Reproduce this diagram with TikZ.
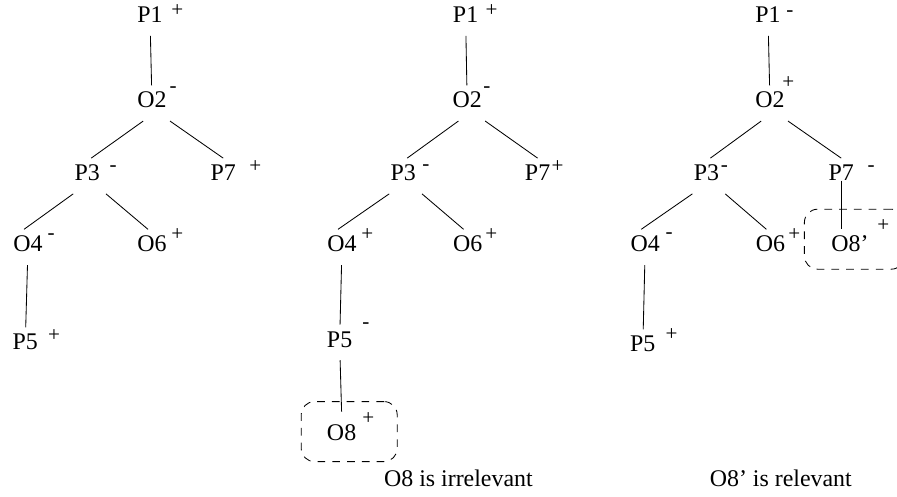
\documentclass[tikz,border=0pt]{standalone}
\usepackage{fontspec}
\setmainfont{Liberation Serif}

\begin{document}
\begin{tikzpicture}[
    every node/.style={font=\fontsize{17}{20}\selectfont},
    vtx/.style={inner xsep=0pt, inner ysep=0.32cm, text height=0.66em, text depth=0pt},
    sgn/.style={font=\fontsize{15}{17}\selectfont, inner sep=0pt, text height=0.5em, text depth=0pt},
    note/.style={inner sep=0pt, text height=0.66em, text depth=0pt},
    hbox/.style={draw, dash pattern=on 5.5pt off 5pt, rounded corners=0.33cm,
                 minimum width=2.4cm, minimum height=1.5cm, inner sep=0pt},
    line width=0.6pt,
]
    \useasboundingbox (0,0) rectangle (22.425,-12.425);

    % left tree
    \node[vtx] (p1-a) at (3.75,-0.45) {P1};
    \node[vtx] (o2-a) at (3.8,-2.58) {O2};
    \node[vtx] (p3-a) at (2.18,-4.4) {P3};
    \node[vtx] (p7-a) at (5.58,-4.4) {P7};
    \node[vtx] (o4-a) at (0.7,-6.18) {O4};
    \node[vtx] (o6-a) at (3.8,-6.18) {O6};
    \node[vtx] (p5-a) at (0.63,-8.63) {P5};

    \node[sgn] (sp1-a) at (4.43,-0.33) {+};
    \node[sgn] (so2-a) at (4.33,-2.23) {-};
    \node[sgn] (sp3-a) at (2.83,-4.2) {-};
    \node[sgn] (sp7-a) at (6.38,-4.23) {+};
    \node[sgn] (so4-a) at (1.28,-5.9) {-};
    \node[sgn] (so6-a) at (4.43,-5.93) {+};
    \node[sgn] (sp5-a) at (1.35,-8.45) {+};

    \draw (p1-a) -- (o2-a);
    \draw ([xshift=-2.2mm]o2-a.south) -- ([xshift=1mm]p3-a.north);
    \draw ([xshift=4.5mm]o2-a.south) -- (p7-a.north);
    \draw ([xshift=-3.5mm]p3-a.south) -- ([xshift=-1mm]o4-a.north);
    \draw ([xshift=4.7mm]p3-a.south) -- ([xshift=-1mm]o6-a.north);
    \draw (o4-a) -- (p5-a);

    % middle tree
    \node[vtx] (p1-b) at (11.64,-0.45) {P1};
    \node[vtx] (o2-b) at (11.68,-2.58) {O2};
    \node[vtx] (p3-b) at (10.08,-4.4) {P3};
    \node[vtx] (p7-b) at (13.44,-4.4) {P7};
    \node[vtx] (o4-b) at (8.55,-6.18) {O4};
    \node[vtx] (o6-b) at (11.69,-6.18) {O6};
    \node[vtx] (p5-b) at (8.49,-8.56) {P5};
    \node[vtx] (o8-b) at (8.54,-10.89) {O8};
    \node[hbox] (box-b) at (8.73,-10.79) {};

    \node[sgn] (sp1-b) at (12.29,-0.32) {+};
    \node[sgn] (so2-b) at (12.17,-2.23) {-};
    \node[sgn] (sp3-b) at (10.65,-4.17) {-};
    \node[sgn] (sp7-b) at (13.94,-4.23) {+};
    \node[sgn] (so4-b) at (9.18,-5.92) {+};
    \node[sgn] (so6-b) at (12.28,-5.93) {+};
    \node[sgn] (sp5-b) at (9.15,-8.13) {-};
    \node[sgn] (so8-b) at (9.21,-10.52) {+};

    \draw (p1-b) -- (o2-b);
    \draw ([xshift=-2.2mm]o2-b.south) -- ([xshift=1mm]p3-b.north);
    \draw ([xshift=4.5mm]o2-b.south) -- (p7-b.north);
    \draw ([xshift=-3.5mm]p3-b.south) -- ([xshift=-1mm]o4-b.north);
    \draw ([xshift=4.7mm]p3-b.south) -- ([xshift=-1mm]o6-b.north);
    \draw (o4-b) -- (p5-b);
    \draw (p5-b) -- ([yshift=1.5mm]o8-b.north);

    \node[note] (cap-b) at (11.46,-12.05) {O8 is irrelevant};

    % right tree
    \node[vtx] (p1-c) at (19.2,-0.45) {P1};
    \node[vtx] (o2-c) at (19.25,-2.58) {O2};
    \node[vtx] (p3-c) at (17.66,-4.4) {P3};
    \node[vtx] (p7-c) at (21.03,-4.4) {P7};
    \node[vtx] (o4-c) at (16.13,-6.18) {O4};
    \node[vtx] (o6-c) at (19.26,-6.18) {O6};
    \node[vtx] (o8-c) at (21.25,-6.18) {O8'};
    \node[vtx] (p5-c) at (16.07,-8.68) {P5};
    \node[hbox, minimum width=2.5cm] (box-c) at (21.36,-5.98) {};

    \node[sgn] (sp1-c) at (19.75,-0.33) {-};
    \node[sgn] (so2-c) at (19.71,-2.13) {+};
    \node[sgn] (sp3-c) at (18.11,-4.21) {-};
    \node[sgn] (sp7-c) at (21.78,-4.21) {-};
    \node[sgn] (so4-c) at (16.73,-5.88) {-};
    \node[sgn] (so6-c) at (19.86,-5.93) {+};
    \node[sgn] (so8-c) at (22.08,-5.71) {+};
    \node[sgn] (sp5-c) at (16.79,-8.43) {+};

    \draw (p1-c) -- (o2-c);
    \draw ([xshift=-2.2mm]o2-c.south) -- ([xshift=1mm]p3-c.north);
    \draw ([xshift=4.5mm]o2-c.south) -- (p7-c.north);
    \draw ([xshift=-3.5mm]p3-c.south) -- ([xshift=-1mm]o4-c.north);
    \draw ([xshift=4.7mm]p3-c.south) -- ([xshift=-1mm]o6-c.north);
    \draw (o4-c) -- (p5-c);
    \draw (p7-c.base) -- (p7-c.base |- o8-c.north);

    \node[note] (cap-c) at (19.52,-12.05) {O8' is relevant};
\end{tikzpicture}
\end{document}
